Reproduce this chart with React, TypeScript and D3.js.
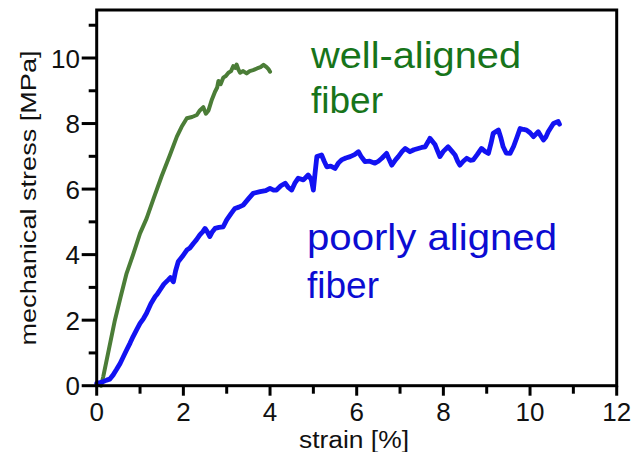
import React from "react";
import * as d3 from "d3";

const wellAligned: [number, number][] = [
  [0.1, 0.0], [0.15, 0.27], [0.28, 1.1], [0.42, 2.0], [0.55, 2.7], [0.69, 3.43], [0.84, 4.0],
  [1.0, 4.65], [1.15, 5.1], [1.31, 5.7], [1.5, 6.4], [1.69, 7.04], [1.85, 7.6], [1.96, 7.9],
  [2.08, 8.16], [2.2, 8.2], [2.31, 8.26], [2.38, 8.4], [2.46, 8.5], [2.52, 8.3], [2.58, 8.4],
  [2.65, 8.7], [2.73, 8.97], [2.78, 9.1], [2.81, 9.3], [2.86, 9.2], [2.92, 9.4], [2.98, 9.45],
  [3.04, 9.55], [3.1, 9.6], [3.15, 9.75], [3.2, 9.7], [3.23, 9.8], [3.27, 9.65], [3.31, 9.55],
  [3.38, 9.6], [3.46, 9.53], [3.53, 9.6], [3.61, 9.63], [3.7, 9.68], [3.78, 9.72], [3.85, 9.79],
  [3.92, 9.72], [3.97, 9.65], [4.0, 9.58],
];

const poorlyAligned: [number, number][] = [
  [0.0, 0.07], [0.1, 0.1], [0.23, 0.17], [0.3, 0.2], [0.38, 0.33], [0.46, 0.5], [0.54, 0.68],
  [0.62, 0.9], [0.69, 1.09], [0.77, 1.3], [0.84, 1.5], [0.92, 1.7], [1.0, 1.9], [1.08, 2.05],
  [1.15, 2.21], [1.25, 2.5], [1.35, 2.72], [1.4, 2.8], [1.46, 2.92], [1.55, 3.1], [1.65, 3.23],
  [1.7, 3.3], [1.77, 3.17], [1.82, 3.5], [1.88, 3.78], [1.98, 3.95], [2.08, 4.14], [2.15, 4.2],
  [2.23, 4.34], [2.3, 4.45], [2.38, 4.6], [2.45, 4.7], [2.5, 4.8], [2.55, 4.7], [2.61, 4.55],
  [2.67, 4.7], [2.73, 4.8], [2.82, 4.83], [2.92, 4.85], [3.0, 5.06], [3.1, 5.25], [3.19, 5.41],
  [3.28, 5.45], [3.38, 5.51], [3.5, 5.7], [3.61, 5.87], [3.77, 5.92], [3.9, 5.95], [4.0, 6.02],
  [4.08, 5.97], [4.15, 5.97], [4.25, 6.1], [4.35, 6.18], [4.42, 6.05], [4.5, 5.97], [4.58, 6.2],
  [4.65, 6.33], [4.77, 6.28], [4.88, 6.43], [4.95, 6.3], [5.0, 5.97], [5.04, 6.5], [5.08, 6.99],
  [5.19, 7.04], [5.25, 6.85], [5.31, 6.68], [5.4, 6.7], [5.5, 6.63], [5.58, 6.8], [5.65, 6.89],
  [5.75, 6.95], [5.85, 6.99], [5.95, 7.05], [6.04, 7.14], [6.1, 7.0], [6.19, 6.84], [6.3, 6.85],
  [6.42, 6.79], [6.5, 6.85], [6.58, 6.94], [6.69, 7.09], [6.75, 6.9], [6.81, 6.73], [6.9, 6.9],
  [6.96, 6.99], [7.05, 7.15], [7.12, 7.24], [7.23, 7.14], [7.32, 7.2], [7.42, 7.24], [7.5, 7.27],
  [7.58, 7.29], [7.65, 7.45], [7.69, 7.55], [7.75, 7.45], [7.81, 7.35], [7.87, 7.15], [7.92, 6.99],
  [8.0, 7.15], [8.11, 7.29], [8.2, 7.15], [8.27, 7.04], [8.33, 6.85], [8.38, 6.73], [8.46, 6.85],
  [8.54, 6.94], [8.62, 6.88], [8.69, 6.89], [8.78, 7.05], [8.88, 7.24], [8.96, 7.15], [9.04, 7.09],
  [9.1, 7.4], [9.15, 7.7], [9.27, 7.8], [9.33, 7.55], [9.38, 7.29], [9.45, 7.1], [9.54, 7.09],
  [9.62, 7.3], [9.69, 7.55], [9.77, 7.85], [9.85, 7.82], [9.92, 7.8], [10.0, 7.72], [10.08, 7.6],
  [10.19, 7.75], [10.25, 7.62], [10.31, 7.5], [10.37, 7.6], [10.42, 7.75], [10.54, 8.0],
  [10.65, 8.06], [10.68, 7.98],
];

const xMajorTicks = [0, 2, 4, 6, 8, 10, 12];
const xMinorTicks = [1, 3, 5, 7, 9, 11];
const yMajorTicks = [0, 2, 4, 6, 8, 10];
const yMinorTicks = [1, 3, 5, 7, 9, 11];

const xTitle = "strain [%]";
const yTitle = "mechanical stress [MPa]";
const wellLabel = ["well-aligned", "fiber"];
const poorLabel = ["poorly aligned", "fiber"];

const W = 635;
const H = 452;
const left = 96.7;
const right = 616.7;
const top = 10;
const bottom = 385.7;

const FONT = "'Liberation Sans', Arial, Helvetica, sans-serif";

export default function App() {
  const x = d3.scaleLinear().domain([0, 12]).range([left, right]);
  const y = d3.scaleLinear().domain([0, 10]).range([bottom, 58]);
  const line = d3
    .line<[number, number]>()
    .x((d) => x(d[0]))
    .y((d) => y(d[1]));

  return (
    <svg
      width={W}
      height={H}
      style={{ position: "absolute", left: 0, top: 0, background: "#fff" }}
      fontFamily={FONT}
    >
      <rect x={0} y={0} width={W} height={H} fill="#fff" />
      {/* curves */}
      <path
        d={line(wellAligned) || ""}
        fill="none"
        stroke="#4b7d37"
        strokeWidth={4}
        strokeLinejoin="round"
        strokeLinecap="round"
      />
      <path
        d={line(poorlyAligned) || ""}
        fill="none"
        stroke="#1212f2"
        strokeWidth={4.8}
        strokeLinejoin="round"
        strokeLinecap="round"
      />
      {/* frame */}
      <rect
        x={left}
        y={top}
        width={right - left}
        height={bottom - top}
        fill="none"
        stroke="#000"
        strokeWidth={3}
      />
      {/* x ticks */}
      {xMajorTicks.map((t) => (
        <g key={"xm" + t}>
          <line x1={x(t)} x2={x(t)} y1={bottom} y2={bottom + 10} stroke="#000" strokeWidth={3} />
          <text x={x(t)} y={421} fontSize={26} textAnchor="middle" fill="#111">
            {t}
          </text>
        </g>
      ))}
      {xMinorTicks.map((t) => (
        <line key={"xn" + t} x1={x(t)} x2={x(t)} y1={bottom} y2={bottom + 8} stroke="#000" strokeWidth={3} />
      ))}
      {/* y ticks */}
      {yMajorTicks.map((t) => (
        <g key={"ym" + t}>
          <line x1={left - 15} x2={left} y1={y(t)} y2={y(t)} stroke="#000" strokeWidth={3} />
          <text x={80} y={y(t) + 9.5} fontSize={26} textAnchor="end" fill="#111">
            {t}
          </text>
        </g>
      ))}
      {yMinorTicks.map((t) => (
        <line key={"yn" + t} x1={left - 8} x2={left} y1={y(t)} y2={y(t)} stroke="#000" strokeWidth={3} />
      ))}
      {/* axis titles */}
      <text
        x={354}
        y={447.5}
        fontSize={23}
        textAnchor="middle"
        fill="#111"
        textLength={110}
        lengthAdjust="spacingAndGlyphs"
      >
        {xTitle}
      </text>
      <text
        transform="translate(36,198) rotate(-90)"
        fontSize={22}
        textAnchor="middle"
        fill="#111"
        textLength={295}
        lengthAdjust="spacingAndGlyphs"
      >
        {yTitle}
      </text>
      {/* annotations */}
      <text x={311} y={68} fontSize={37} fill="#17741a" textLength={210} lengthAdjust="spacingAndGlyphs">
        {wellLabel[0]}
      </text>
      <text x={311} y={113} fontSize={37} fill="#17741a">
        {wellLabel[1]}
      </text>
      <text x={307} y={250} fontSize={37} fill="#0c0cd2" textLength={250} lengthAdjust="spacingAndGlyphs">
        {poorLabel[0]}
      </text>
      <text x={307} y={298} fontSize={37} fill="#0c0cd2">
        {poorLabel[1]}
      </text>
    </svg>
  );
}
